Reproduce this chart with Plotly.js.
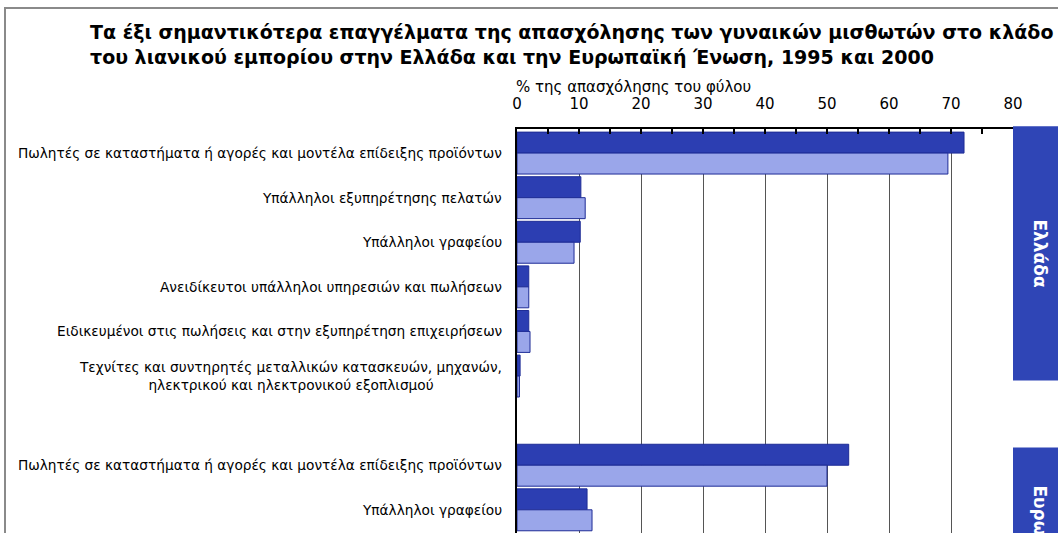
<!DOCTYPE html>
<html>
<head>
<meta charset="utf-8">
<script src="https://cdn.plot.ly/plotly-3.0.1.min.js"></script>
<style>
  html, body { margin: 0; padding: 0; background: #ffffff; overflow: hidden; }
  #wrap { position: relative; width: 1058px; height: 533px; overflow: hidden; }
  #chart { position: absolute; left: 0; top: 0; width: 1058px; height: 533px; }
  #frame { position: absolute; left: 4px; top: 7px; width: 1100px; height: 600px; z-index: 10;
           border-left: 2px solid #8a8a8a; border-top: 2px solid #8a8a8a; pointer-events: none; box-sizing: border-box; }
</style>
</head>
<body>
<div id="wrap">
  <div id="chart"></div>
  <div id="frame"></div>
</div>
<script>
// ---------- data ----------
const titleText = "Τα έξι σημαντικότερα επαγγέλματα της απασχόλησης των γυναικών μισθωτών στο κλάδο<br>του λιανικού εμπορίου στην Ελλάδα και την Ευρωπαϊκή Ένωση, 1995 και 2000";
const xAxisTitle = "% της απασχόλησης του φύλου";
const seriesNames = ["1995", "2000"];
const groupLabels = ["Ελλάδα", "Ευρωπαϊκή Ένωση"];

const greeceCategories = [
  "Πωλητές σε καταστήματα ή αγορές και μοντέλα επίδειξης προϊόντων",
  "Υπάλληλοι εξυπηρέτησης πελατών",
  "Υπάλληλοι γραφείου",
  "Ανειδίκευτοι υπάλληλοι υπηρεσιών και πωλήσεων",
  "Ειδικευμένοι στις πωλήσεις και στην εξυπηρέτηση επιχειρήσεων",
  "Τεχνίτες και συντηρητές μεταλλικών κατασκευών, μηχανών,<br>ηλεκτρικού και ηλεκτρονικού εξοπλισμού"
];
const greece1995 = [72.1, 10.3, 10.2, 1.9, 1.9, 0.5];
const greece2000 = [69.5, 11.0, 9.2, 1.9, 2.1, 0.4];

const euCategories = [
  "Πωλητές σε καταστήματα ή αγορές και μοντέλα επίδειξης προϊόντων",
  "Υπάλληλοι γραφείου"
];
const eu1995 = [53.5, 11.3];
const eu2000 = [50.0, 12.1];

const xTickValues = [0, 10, 20, 30, 40, 50, 60, 70, 80];

// ---------- layout constants ----------
const W = 1058, H = 533;
const M = { l: 517, r: 45, t: 129, b: 0 };
const PW = W - M.l - M.r, PH = H - M.t - M.b;
const FONT = "DejaVu Sans, Verdana, sans-serif";
const DARK = "#2C3EB2", LIGHT = "#9AA6EA", EDGE = "#1E2C96", PANEL = "#2F45B6";

const px2paperX = p => (p - M.l) / PW;
const px2paperY = p => (H - M.b - p) / PH;

// row positions: greek rows, one blank row, then EU rows
const greecePos = greeceCategories.map((_, i) => i);
const euStart = greeceCategories.length + 1;
const euPos = euCategories.map((_, i) => euStart + i);

const allPos = greecePos.concat(euPos);
const all1995 = greece1995.concat(eu1995);
const all2000 = greece2000.concat(eu2000);
const allCats = greeceCategories.concat(euCategories);

const yRange = [8.52, -0.54];
const y2paper = v => 1 - (v - yRange[1]) / (yRange[0] - yRange[1]);

const traces = [
  {
    type: "bar", orientation: "h", name: seriesNames[0],
    x: all1995, y: allPos,
    marker: { color: DARK, line: { color: EDGE, width: 1 } },
    hoverinfo: "x+name"
  },
  {
    type: "bar", orientation: "h", name: seriesNames[1],
    x: all2000, y: allPos,
    marker: { color: LIGHT, line: { color: EDGE, width: 1 } },
    hoverinfo: "x+name"
  }
];

const annotations = [];
allCats.forEach((c, i) => {
  annotations.push({
    xref: "paper", x: 0, xshift: -13, xanchor: "right",
    yref: "paper", y: y2paper(allPos[i]), yanchor: "middle",
    text: c, align: "center", showarrow: false,
    font: { family: FONT, size: 13.7, color: "#000" }
  });
});
annotations.push({
  xref: "paper", x: 0, xshift: -3, xanchor: "left",
  yref: "paper", y: px2paperY(87), yanchor: "middle",
  text: xAxisTitle, showarrow: false,
  font: { family: FONT, size: 15, color: "#000" }
});

// group panels on the right
const span = greeceCategories.length;
const panels = [
  { y0: -0.6, y1: span - 0.9 },
  { y0: euStart - 0.4, y1: euStart - 0.4 + span - 0.3 }
];
const shapes = [];
panels.forEach((p, k) => {
  shapes.push({
    type: "rect", layer: "above",
    xref: "paper", x0: 1, x1: px2paperX(W + 20),
    yref: "paper", y0: y2paper(p.y1), y1: y2paper(p.y0),
    fillcolor: PANEL, line: { width: 0 }
  });
  annotations.push({
    xref: "paper", x: px2paperX(1040), xanchor: "center",
    yref: "paper", y: y2paper((p.y0 + p.y1) / 2), yanchor: "middle",
    text: groupLabels[k], textangle: 90, showarrow: false,
    font: { family: FONT, size: 17, color: "#ffffff", weight: "bold" }
  });
});

const layout = {
  width: W, height: H,
  margin: M,
  paper_bgcolor: "#ffffff", plot_bgcolor: "#ffffff",
  showlegend: false,
  barmode: "group", bargap: 0.06, bargroupgap: 0,
  title: {
    text: titleText,
    xref: "container", x: 90 / W, xanchor: "left",
    yref: "container", y: 1 - 39 / H, yanchor: "top",
    font: { family: FONT, size: 19, color: "#000", weight: "bold" }
  },
  xaxis: {
    side: "top", range: [0, 80], autorange: false,
    tickvals: xTickValues, ticktext: xTickValues.map(String),
    ticks: "inside", ticklen: 5, tickwidth: 1.5, tickcolor: "#000",
    ticklabelstandoff: 12,
    minor: { dtick: 5, tick0: 0, ticks: "inside", ticklen: 5, tickwidth: 1.5, tickcolor: "#000", showgrid: false },
    showline: true, linecolor: "#000", linewidth: 2,
    showgrid: true, gridcolor: "#555555", gridwidth: 1,
    zeroline: false,
    tickfont: { family: FONT, size: 15, color: "#000" },
    fixedrange: true
  },
  yaxis: {
    range: yRange, autorange: false,
    showticklabels: false, ticks: "",
    showline: true, linecolor: "#000", linewidth: 2,
    showgrid: false, zeroline: false, fixedrange: true
  },
  annotations: annotations,
  shapes: shapes
};

Plotly.newPlot("chart", traces, layout, { displayModeBar: false, staticPlot: true });
</script>
</body>
</html>
